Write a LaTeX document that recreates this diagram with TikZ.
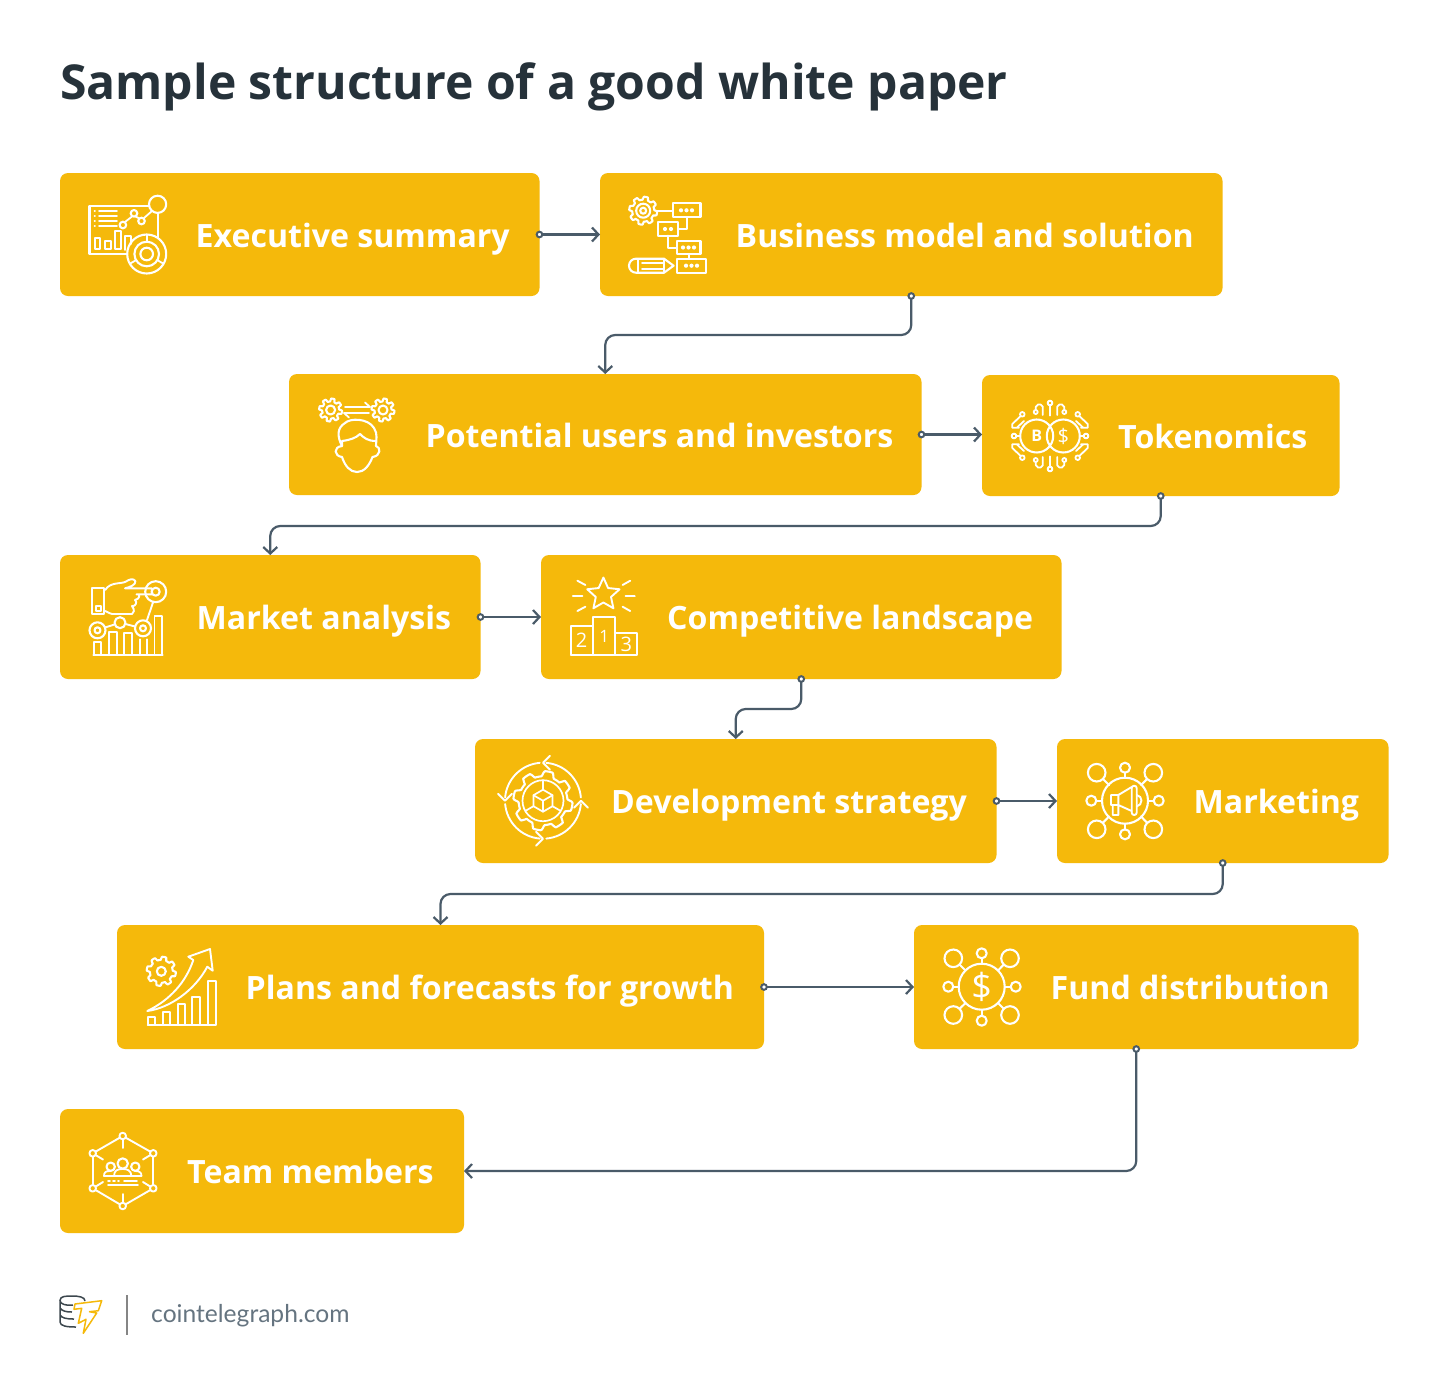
\documentclass[tikz,border=0pt]{standalone}
\usepackage{fontspec}
\setmainfont{Open Sans}
\newfontfamily\sitefont{Lato}
\usetikzlibrary{arrows.meta,calc}
\definecolor{boxy}{HTML}{F5B90B}
\definecolor{conn}{HTML}{4A5B69}
\definecolor{titlec}{HTML}{26323A}
\tikzset{
 x=1pt,y=-1pt,
 boxn/.style={fill=boxy,rounded corners=8pt,inner sep=0pt,outer sep=0pt,anchor=north west},
 lab/.style={anchor=base west,inner sep=0pt,text=white,font=\fontsize{32.1}{36}\selectfont\bfseries},
 ic/.style={draw=white,line width=2.1pt,line join=round,line cap=round,fill=none},
 icn/.style={text=white,inner sep=0pt},
 link/.style={draw=conn,line width=2.2pt,rounded corners=10pt,-{Straight Barb[length=6.5pt,width=14pt,line width=2.2pt]}},
 dotc/.style={draw=conn,line width=2pt,fill=white},
}
\newcommand\tbox[7]{% name x0 y0 x1 y1 textx baseline -- text after
 \pgfmathsetmacro\bw{#4-#2}\pgfmathsetmacro\bh{#5-#3}
 \node[boxn,minimum width=\bw pt,minimum height=\bh pt] (#1) at (#2,#3) {};
 \node[lab] (#1t) at (#6,#7)}
\newcommand\gearic[5]{% x y base amp teeth
 \draw[ic,shift={(#1,#2)}] plot[domain=0:360,samples=181] (\x:{#3+#4*max(-1,min(1,2.5*sin(#5*\x)))}) -- cycle;}
\newcommand\ring[3]{\draw[ic] (#1,#2) circle (#3);}
\begin{document}
\begin{tikzpicture}
\useasboundingbox (0,0) rectangle (1450,1395);
\fill[white] (0,0) rectangle (1450,1395);
\node[anchor=base west,inner sep=0pt,text=titlec,font=\fontsize{48.1}{50}\selectfont\bfseries] (title) at (60,99) {Sample structure of a good white paper};

\tbox{b1}{60}{173}{539.5}{296}{195.5}{247} {Executive summary};
\tbox{b2}{600}{173}{1222.5}{296}{735.5}{247} {Business model and solution};
\tbox{b3}{289}{374}{921.5}{495}{425.5}{447} {Potential users and investors};
\tbox{b4}{982}{375}{1339.5}{496}{1118}{448} {Tokenomics};
\tbox{b5}{60}{555}{480.5}{679}{196.5}{629} {Market analysis};
\tbox{b6}{541}{555}{1061.5}{679}{667}{629} {Competitive landscape};
\tbox{b7}{475}{739}{996.5}{863}{611}{813} {Development strategy};
\tbox{b8}{1057}{739}{1388.5}{863}{1193.5}{813} {Marketing};
\tbox{b9}{117}{925}{764}{1049}{245.5}{999} {Plans and forecasts for growth};
\tbox{b10}{914}{925}{1358.5}{1049}{1050.5}{999} {Fund distribution};
\tbox{b11}{60}{1109}{464}{1233}{187}{1183} {Team members};

% connectors
\draw[link] (b1.east) -- (b2.west);
\draw[link] (b2.south) -- ++(0,39) -| (b3.north);
\draw[link] (b3.east) -- (b3.east -| b4.west);
\draw[link] (b4.south) -- ++(0,30) -| (b5.north);
\draw[link] (b5.east) -- (b6.west);
\draw[link] (b6.south) -- ++(0,30) -| (b7.north);
\draw[link] (b7.east) -- (b8.west);
\draw[link] (b8.south) -- ++(0,31) -| (b9.north);
\draw[link] (b9.east) -- (b10.west);
\draw[link] (b10.south) |- (b11.east);
\foreach \n/\a in {b1/east,b2/south,b3/east,b4/south,b5/east,b6/south,b7/east,b8/south,b9/east,b10/south}
 \draw[dotc] (\n.\a) circle (2.8);

% --- icon 1 executive summary
\draw[ic] (127,254.3) -- (89.5,254.3) -- (89.5,205.7) -- (149,205.7);
\ring{157.6}{204.3}{8.6}
\foreach \yy in {211,216,221,226} {\draw[ic,line width=1.7pt] (99,\yy) -- (117,\yy); \draw[ic,line width=1.7pt] (94.5,\yy) -- (95,\yy);}
\draw[ic,line width=1.8pt] (94.7,249.3) rectangle (100.3,238.3) (104.7,249.3) rectangle (110.7,241) (115,249.3) rectangle (120.7,231.3);
\draw[ic,line width=1.8pt] (125,250) -- (125,235.7) -- (130.7,235.7) -- (130.7,244);
\ring{122.9}{225}{3.3}\ring{134}{213.3}{3.3}\ring{141.5}{221}{3.3}
\draw[ic,line width=1.8pt] (125,222) -- (132,216.5) (135.5,216.5) -- (139.5,218.5) (144,218) -- (152,211);
\draw[ic] (158.4,213) -- (158.4,238);
\ring{146.7}{254}{19.5}\ring{146.7}{254}{12.3}\ring{146.7}{254}{6.3}
\foreach \a in {-90,30,150} \draw[ic,line width=1.8pt,shift={(146.7,254)}] (\a:12.3) -- (\a:19.5);

% --- icon 2 business model
\gearic{643.2}{210.7}{12.5}{1.5}{8}
\ring{643.2}{210.7}{7}\ring{643.2}{210.7}{3}
\draw[ic] (657,210.7) -- (672.7,210.7);
\draw[ic] (672.7,203.3) rectangle (700.5,217.3) (658,222.3) rectangle (678,235.7) (677,240.7) rectangle (700.5,254) (677,258.7) rectangle (706,272.7);
\draw[ic] (686.6,217.3) -- (686.6,229.3) -- (678,229.3) (668,235.7) -- (668,247.7) -- (677,247.7) (688.8,254) -- (688.8,258.7);
\foreach \cx/\cy in {681/210.3,686.5/210.3,692/210.3,665/229,671/229,683/247.5,688.5/247.5,694/247.5,686/265.7,691.5/265.7,697/265.7}
 \fill[white] (\cx,\cy) circle (2.1);
\draw[ic] (664,258.7) -- (636,258.7) arc[start angle=-90,end angle=-270,radius=7] -- (664,272.7) -- (673.6,265.7) -- cycle;
\draw[ic,line width=1.7pt] (638,258.7) -- (638,272.7) (642,262.7) -- (664,262.7) (642,268.7) -- (664,268.7) (664,258.7) -- (664,272.7);

% --- icon 3 users
\gearic{330.6}{410}{10}{1.5}{8}\ring{330.6}{410}{4.5}
\gearic{383}{410}{10}{1.5}{8}\ring{383}{410}{4.5}
\draw[ic,line width=1.8pt] (345,407) -- (370,407) -- (365,402.5) (369,413) -- (344,413) -- (349,417.5);
\draw[ic] (342,446) .. controls (337,436) and (337,428) .. (345,423) .. controls (350,418) and (368,418) .. (374,428) .. controls (378,434) and (376,440) .. (376,446)
 .. controls (381,447) and (381,456) .. (372.5,457) .. controls (369,466) and (364,472) .. (357,472) .. controls (350,472) and (345,466) .. (342,457) .. controls (334,456) and (333,447) .. (342,446);
\draw[ic] (342,446) -- (342,441) .. controls (350,440) and (356,438) .. (360,434) .. controls (364,438) and (368,441) .. (376,441);

% --- icon 4 tokenomics
\draw[ic,dash pattern=on 2.4pt off .5pt] (1036.7,436) circle (16.5) (1063.3,436) circle (16.5);
\node[icn,font=\fontsize{16}{16}\selectfont\bfseries] (tkb) at (1036.7,436) {B};
\node[icn,font=\fontsize{20}{20}\selectfont] (tkd) at (1063.3,436) {\$};
\foreach \sx/\sy in {1/1,-1/1,1/-1,-1/-1}{
\begin{scope}[shift={(1050,436)},xscale=\sx,yscale=\sy]
 \draw[ic,line width=1.8pt] (0,-33) circle (2.3) (0,-30.7) -- (0,-20.5);
 \draw[ic,line width=1.8pt] (-14.3,-24) circle (2) (-14.3,-26) -- (-14.3,-29) -- (-12,-31.5) -- (-9.5,-31.5) -- (-7.3,-29.5) -- (-7.3,-21);
 \draw[ic,line width=1.8pt] (-27.7,-21.7) circle (2.3) (-29.3,-20) -- (-37.7,-12) -- (-37.7,-8.3) -- (-31,-8.3) (-26,-15) -- (-33,-8.5);
 \draw[ic,line width=1.8pt] (-36,0) circle (2.3) (-33.7,0) -- (-30.2,0);
\end{scope}}

% --- icon 5 market analysis
\draw[ic,line width=1.9pt] (92.1,587.7) rectangle (104.4,614) (95.6,605.7) rectangle (101,611);
\draw[ic,line width=1.9pt] (105.2,590) .. controls (110,582) and (120,584) .. (125,582) .. controls (130,579) and (133,578) .. (135.4,581) .. controls (136,585) and (130,587) .. (125,588.3) -- (151.8,588.3) -- (151.8,594.3) -- (136.5,594.3) (139,594.3) .. controls (140,598) and (137,600) .. (135,600) .. controls (138,602) and (135,607) .. (132,606) .. controls (135,610) and (134,613) .. (132,614) -- (112,614) .. controls (110,614) and (108,612) .. (105.2,611);
\ring{155.7}{591.7}{10.5}\ring{155.7}{591.7}{4}
\draw[ic,line width=1.9pt] (153,602.5) -- (147,620);
\ring{97.5}{630.3}{8}\ring{97.5}{630.3}{3}\ring{120}{622.7}{5.5}\ring{143}{628.3}{8}\ring{143}{628.3}{3}
\draw[ic,line width=1.9pt] (105,627.5) -- (114.5,624.5) (125.5,624) -- (135,626.5);
\draw[ic,line width=1.9pt] (93.3,655) -- (162.6,655) (94.4,655) -- (94.4,641.7) -- (101.3,641.7) -- (101.3,655) (109,655) -- (109,631.7) -- (116.6,631.7) -- (116.6,655) (124.3,655) -- (124.3,633.3) -- (132,633.3) -- (132,655) (139.6,655) -- (139.6,639.3) (147.3,639.3) -- (147.3,655) (154.5,655) -- (154.5,615.7) -- (162.2,615.7) -- (162.2,655);

% --- icon 6 podium
\draw[ic,line width=1.9pt] (570.9,655) rectangle (592.7,626) (592.7,655) -- (592.7,616.7) -- (614.9,616.7) -- (614.9,655) (614.9,632.7) -- (637,632.7) -- (637,655) -- (570.9,655);
\node[icn,font=\fontsize{20}{20}\selectfont] (pd2) at (581.6,640.7) {2};
\node[icn,font=\fontsize{17}{17}\selectfont] (pd1) at (604.2,636) {1};
\node[icn,font=\fontsize{20}{20}\selectfont] (pd3) at (626.4,644.3) {3};
\draw[ic,line width=1.9pt,shift={(603.4,594.5)}] plot[domain=0:10,samples=11] ({-90+36*\x}:{ifthenelse(int(mod(round(\x),2))==0,17,8)}) -- cycle;
\draw[ic,line width=1.9pt] (572.8,596) -- (582.4,596) (625.6,596) -- (634.8,596) (577.4,580.7) -- (585.4,585) (630.2,580.7) -- (622.6,585) (577.4,611) -- (585.4,606.7) (630.2,611) -- (622.6,606.7);

% --- icon 7 development
\gearic{543}{800.7}{27}{2.6}{8}
\draw[ic,line width=1.7pt] (543,800.7) circle (20.5);
\begin{scope}[shift={(543,800.7)}]
 \draw[ic,line width=1.7pt] (-90:11) -- (-30:11) -- (30:11) -- (90:11) -- (150:11) -- (210:11) -- cycle;
 \draw[ic,line width=1.7pt] (0,0) -- (-30:11) (0,0) -- (210:11) (0,0) -- (90:11);
 \draw[ic,line width=1.7pt] (-90:11) -- (-90:20.5) (30:11) -- (30:20.5) (150:11) -- (150:20.5);
 \foreach \r in {0,90,180,270}{
 \begin{scope}[rotate=\r]
  \draw[ic,line width=1.9pt] (5:38) arc[start angle=5,end angle=85,radius=38];
  \draw[ic,line width=1.9pt] (7,-45) -- (0,-38) -- (7,-31);
 \end{scope}}
\end{scope}

% --- icon 8 marketing
\ring{1125}{800.7}{23}
\foreach \cx/\cy/\tx/\ty in {1125/767.7/1125/777.7,1125/834.3/1125/823.7,1091.3/800.7/1102/800.7,1158.7/800.7/1148/800.7}{
 \draw[ic] (\cx,\cy) circle (5); \draw[ic] ($(\cx,\cy)!5pt!(\tx,\ty)$) -- (\tx,\ty);}
\foreach \cx/\cy/\tx/\ty in {1096.7/772.7/1109/785,1153.3/772.7/1141/785,1096.7/829.3/1109/816.4,1153.3/829.3/1141/816.4}{
 \draw[ic] (\cx,\cy) circle (8.8); \draw[ic] ($(\cx,\cy)!8.8pt!(\tx,\ty)$) -- (\tx,\ty);}
\draw[ic,line width=1.9pt] (1131.7,787) -- (1118.3,795) -- (1111,795) -- (1111,805) -- (1118.3,805) -- (1131.7,811) (1118.3,795) -- (1118.3,815) -- (1112.7,815) -- (1112.7,805);
\draw[ic,line width=1.9pt,rounded corners=2.4pt] (1131.7,785.7) rectangle (1136.7,815);
\draw[ic,line width=1.9pt] (1136.7,795) .. controls (1143,796) and (1143,805) .. (1136.7,806.5);

% --- icon 9 plans
\gearic{161.3}{971.3}{13}{1.6}{8}\ring{161.3}{971.3}{4.5}
\draw[ic,line width=1.9pt] (147.7,1025) rectangle (155,1017.3) (162.7,1025) rectangle (170,1011.7) (177.7,1025) rectangle (185,1004) (192.3,1025) rectangle (200,996.7) (207.7,1025) rectangle (215.7,980.7) (147.7,1025) -- (215.7,1025);
\draw[ic,line width=1.9pt] (147.3,1011) .. controls (170,1000) and (186,982) .. (193.3,960) -- (188.3,956.7) -- (210,949) -- (212.7,970.7) -- (207.3,966.7) .. controls (195,990) and (170,1008) .. (147.3,1011) -- cycle;

% --- icon 10 fund
\ring{981.7}{986.7}{23}
\foreach \cx/\cy/\tx/\ty in {981.7/953.3/981.7/963.7,981.7/1020.7/981.7/1009.7,948.3/986.7/958.7/986.7,1015.7/986.7/1004.7/986.7}{
 \draw[ic] (\cx,\cy) circle (5); \draw[ic] ($(\cx,\cy)!5pt!(\tx,\ty)$) -- (\tx,\ty);}
\foreach \cx/\cy/\tx/\ty in {953.3/958.3/965.5/970.5,1010/958.3/998/970.5,953.3/1015/965.5/1003,1010/1015/998/1003}{
 \draw[ic] (\cx,\cy) circle (8.8); \draw[ic] ($(\cx,\cy)!8.8pt!(\tx,\ty)$) -- (\tx,\ty);}
\node[icn,font=\fontsize{36}{36}\selectfont] (fd) at (981.7,986.7) {\$};

% --- icon 11 team
\coordinate (ha) at (122.7,1136); \coordinate (hb) at (153.3,1153.3); \coordinate (hc) at (153.3,1188.3);
\coordinate (hd) at (122.7,1206); \coordinate (he) at (92.7,1188.3); \coordinate (hf) at (92.7,1153.3);
\foreach \p/\q in {ha/hb,hb/hc,hc/hd,hd/he,he/hf,hf/ha}
  \draw[ic,line width=1.9pt] ($(\p)!3.5pt!(\q)$) -- ($(\q)!3.5pt!(\p)$);
\foreach \p in {ha,hb,hc,hd,he,hf} \draw[ic,line width=1.9pt] (\p) circle (3.3);
\draw[ic,line width=1.9pt] (122.7,1139.3) -- (122.7,1148) (122.7,1202.7) -- (122.7,1194);
\draw[ic,line width=1.9pt] (150.4,1155) -- (143,1159.5) (150.4,1186.6) -- (143,1182) (95.6,1155) -- (103,1159.5) (95.6,1186.6) -- (103,1182);
\ring{122.7}{1163.5}{5.2}\ring{110.7}{1166.7}{4.2}\ring{135.3}{1166.7}{4.2}
\draw[ic,line width=1.8pt] (114,1176) .. controls (114,1170) and (118,1169) .. (122.7,1169) .. controls (127,1169) and (131,1170) .. (131.5,1176);
\draw[ic,line width=1.8pt] (104,1176) .. controls (104,1172) and (106,1171) .. (110,1171) (135,1171) .. controls (139,1171) and (141.5,1172) .. (141.5,1176);
\draw[ic,line width=1.7pt] (104,1176) -- (141.5,1176) (124,1181) -- (137,1181) (108,1185) -- (138,1185);
\draw[ic,line width=1.7pt,dash pattern=on 2pt off 3pt] (108,1181) -- (119,1181);

% --- logo
\draw[line width=1.5pt,draw=titlec!90] (73,1305) .. controls (66,1306) and (60,1304) .. (60,1300.5) .. controls (60,1296) and (66,1296) .. (72,1296) .. controls (79,1296) and (85,1297) .. (85,1301)
 (60,1300.5) -- (60,1322) .. controls (60,1326) and (67,1327) .. (76,1327)
 (60,1308) .. controls (62,1311) and (66,1312) .. (72,1312) (60,1315) .. controls (62,1318) and (66,1319) .. (74,1319);
\draw[line width=1.5pt,draw=boxy,line join=round] (75,1304) -- (101.7,1300.7) -- (98.3,1310.7) -- (89.5,1311.7) -- (96.7,1313) -- (83.3,1333.3) -- (86,1319.3) -- (78.3,1323.3) -- (81.7,1308.3) -- (74,1309.3) -- cycle;
\coordinate (bartop) at (127,1295); \coordinate (barbot) at (127,1335);
\draw[line width=2pt,draw=black!48] (bartop) -- (barbot);
\node[anchor=base west,inner sep=0pt,text=conn!85,font=\fontsize{24.6}{26}\selectfont\sitefont] (site) at (151,1322) {cointelegraph.com};
\end{tikzpicture}
\end{document}
